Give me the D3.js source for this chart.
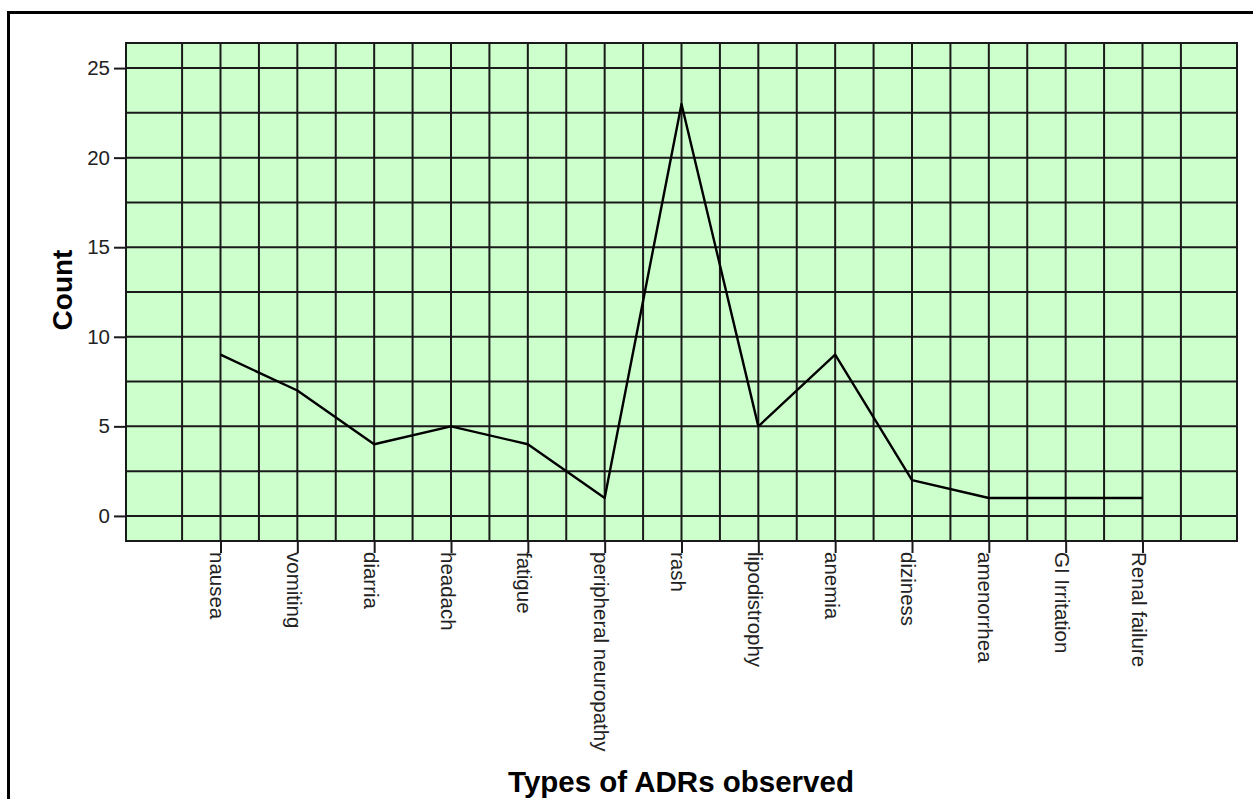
<!DOCTYPE html>
<html>
<head>
<meta charset="utf-8">
<script src="https://cdn.jsdelivr.net/npm/d3@7"></script>
<style>
  body { margin: 0; background: #fff; }
  svg { display: block; font-family: "Liberation Sans", Arial, sans-serif; }
</style>
</head>
<body>
<div id="chart"></div>
<script>
// ADR types and how many times each was observed
const categories = ["nausea", "vomiting", "diarria", "headach", "fatigue",
    "peripheral neuropathy", "rash", "lipodistrophy", "anemia", "diziness",
    "amenorrhea", "GI Irritation", "Renal failure"];
const counts = [9, 7, 4, 5, 4, 1, 23, 5, 9, 2, 1, 1, 1];
const yTicks = [0, 5, 10, 15, 20, 25];
const yGrid = [0, 2.5, 5, 7.5, 10, 12.5, 15, 17.5, 20, 22.5, 25];

const data = categories.map((c, i) => ({ type: c, num: counts[i] }));

const width = 1253,
      height = 799,
      plot = { left: 126, right: 1237, top: 43, bottom: 541 };

let svg = d3.select("#chart")
    .append("svg")
    .attr("width", width)
    .attr("height", height);

// outer frame, only top and left edges show in the picture
svg.append("rect")
    .attr("x", 8.5).attr("y", 12.5)
    .attr("width", 1400).attr("height", 1000)
    .attr("fill", "none")
    .attr("stroke", "#000")
    .attr("stroke-width", 3);

let x = d3.scalePoint()
    .domain(categories)
    .range([plot.left, plot.right])
    .padding(1.23);

let y = d3.scaleLinear()
    .domain([-1.4, 26.4])
    .range([plot.bottom, plot.top]);

// green plot background
svg.append("rect")
    .attr("x", plot.left).attr("y", plot.top)
    .attr("width", plot.right - plot.left)
    .attr("height", plot.bottom - plot.top)
    .attr("fill", "#ccffcc");

// grid: a vertical line on every category and half way between
let half = x.step() / 2;
let xGrid = [];
categories.forEach(c => { xGrid.push(x(c) - half, x(c)); });
xGrid.push(x(categories[categories.length - 1]) + half);

let grid = svg.append("g")
    .attr("stroke", "#1a1a1a")
    .attr("stroke-width", 2);

grid.selectAll(".vg")
    .data(xGrid)
    .join("line")
    .attr("x1", d => d).attr("x2", d => d)
    .attr("y1", plot.top).attr("y2", plot.bottom);

grid.selectAll(".hg")
    .data(yGrid)
    .join("line")
    .attr("x1", plot.left).attr("x2", plot.right)
    .attr("y1", d => y(d)).attr("y2", d => y(d));

svg.append("rect")
    .attr("x", plot.left).attr("y", plot.top)
    .attr("width", plot.right - plot.left)
    .attr("height", plot.bottom - plot.top)
    .attr("fill", "none")
    .attr("stroke", "#1a1a1a")
    .attr("stroke-width", 2);

// y axis
let yAxis = svg.append("g")
    .attr("transform", `translate(${plot.left},0)`)
    .call(d3.axisLeft(y).tickValues(yTicks).tickSize(12).tickPadding(4));
yAxis.select(".domain").remove();
yAxis.selectAll(".tick line").attr("stroke", "#1a1a1a").attr("stroke-width", 2);
yAxis.selectAll(".tick text")
    .attr("fill", "#222")
    .style("font-size", "20.5px")
    .style("font-family", "Liberation Sans, Arial, sans-serif");

// x axis, labels turned to read downwards
let xAxis = svg.append("g")
    .attr("transform", `translate(0,${plot.bottom})`)
    .call(d3.axisBottom(x).tickSize(12).tickFormat(""));
xAxis.select(".domain").remove();
xAxis.selectAll(".tick line").attr("stroke", "#1a1a1a").attr("stroke-width", 2);

svg.append("g")
    .selectAll("text")
    .data(categories)
    .join("text")
    .attr("transform", d => `translate(${x(d)},${plot.bottom + 11}) rotate(90)`)
    .attr("x", 0)
    .attr("y", 10.5)
    .attr("text-anchor", "start")
    .attr("fill", "#222")
    .style("font-size", "20.5px")
    .text(d => d);

// the count line
let line = d3.line()
    .x(d => x(d.type))
    .y(d => y(d.num));

svg.append("path")
    .datum(data)
    .attr("d", line)
    .attr("fill", "none")
    .attr("stroke", "#000")
    .attr("stroke-width", 2.4)
    .attr("stroke-linejoin", "round");

// axis titles
svg.append("text")
    .attr("transform", `translate(72,290) rotate(-90)`)
    .attr("text-anchor", "middle")
    .style("font-size", "28px")
    .style("font-weight", "bold")
    .text("Count");

svg.append("text")
    .attr("x", 681)
    .attr("y", 792)
    .attr("text-anchor", "middle")
    .style("font-size", "29.5px")
    .style("font-weight", "bold")
    .text("Types of ADRs observed");
</script>
</body>
</html>
